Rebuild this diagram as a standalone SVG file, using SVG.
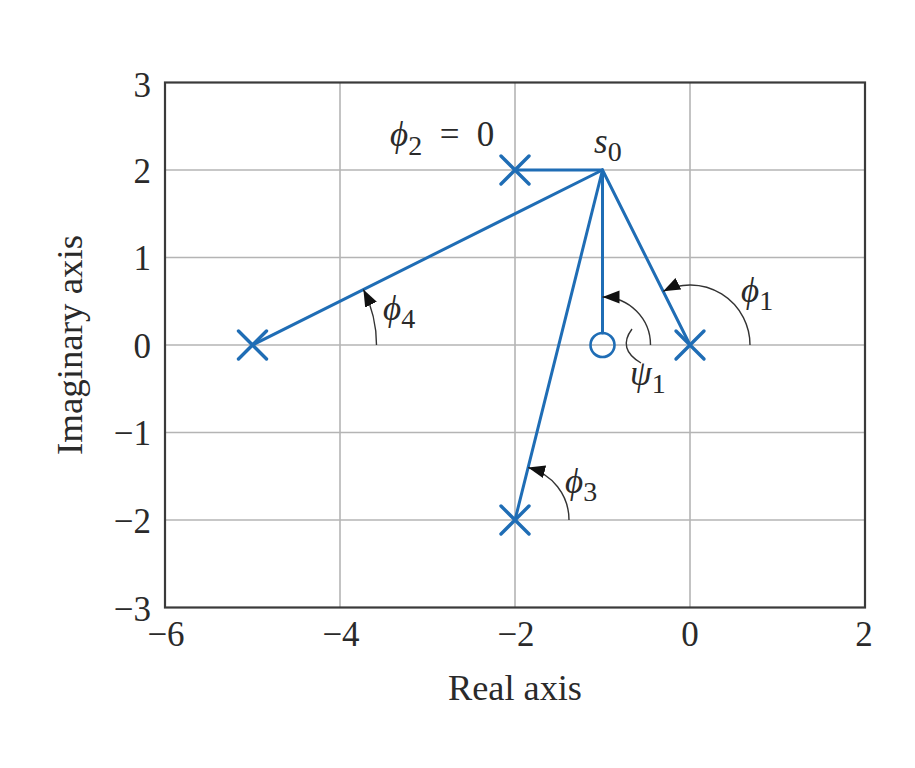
<svg xmlns="http://www.w3.org/2000/svg" width="915" height="768" viewBox="0 0 915 768">
<style>
.grid{stroke:#b4b4b4;stroke-width:1.6;fill:none}
.frame{stroke:#3a3a3a;stroke-width:2.2;fill:none}
.tick{font-family:"Liberation Serif","DejaVu Serif",serif;font-size:35px;fill:#2a2a2a}
.lab{font-family:"Liberation Serif","DejaVu Serif",serif;font-size:35px;fill:#2a2a2a}
.it{font-style:italic}
.sub{font-size:28px}
.blue{stroke:#1f6db5;stroke-width:3;fill:none;stroke-linecap:round}
.mark{stroke:#1f6db5;stroke-width:3.4;fill:none;stroke-linecap:round}
.arc{stroke:#333;stroke-width:1.4;fill:none;marker-end:url(#ah)}
</style>
<defs>
<marker id="ah" markerWidth="18" markerHeight="14" refX="17" refY="6.5" orient="auto" markerUnits="userSpaceOnUse">
<path d="M0,0 L17,6.5 L0,13 Z" fill="#111"/>
</marker>
</defs>
<rect width="915" height="768" fill="#ffffff"/>
<g id="axes">
<line class="grid" x1="340" y1="82.5" x2="340" y2="607.5"/>
<line class="grid" x1="515" y1="82.5" x2="515" y2="607.5"/>
<line class="grid" x1="690" y1="82.5" x2="690" y2="607.5"/>
<line class="grid" x1="165" y1="170" x2="865" y2="170"/>
<line class="grid" x1="165" y1="257.5" x2="865" y2="257.5"/>
<line class="grid" x1="165" y1="345" x2="865" y2="345"/>
<line class="grid" x1="165" y1="432.5" x2="865" y2="432.5"/>
<line class="grid" x1="165" y1="520" x2="865" y2="520"/>
<rect class="frame" x="165" y="82.5" width="700" height="525"/>
<g class="tick" text-anchor="end">
<text x="151" y="97">3</text>
<text x="151" y="183">2</text>
<text x="151" y="270">1</text>
<text x="151" y="358">0</text>
<text x="151" y="445">−1</text>
<text x="151" y="533">−2</text>
<text x="151" y="621">−3</text>
</g>
<g class="tick" text-anchor="middle">
<text x="166" y="646">−6</text>
<text x="341" y="646">−4</text>
<text x="516" y="646">−2</text>
<text x="690" y="646">0</text>
<text x="864" y="646">2</text>
</g>
<text class="lab" x="515" y="700" text-anchor="middle" textLength="134" lengthAdjust="spacingAndGlyphs">Real axis</text>
<text class="lab" transform="translate(82,345) rotate(-90)" text-anchor="middle" textLength="220" lengthAdjust="spacingAndGlyphs">Imaginary axis</text>
</g>
<g id="connectors">
<line class="blue" x1="602.5" y1="170" x2="515" y2="170"/>
<line class="blue" x1="602.5" y1="170" x2="252.5" y2="345"/>
<line class="blue" x1="602.5" y1="170" x2="690" y2="345"/>
<line class="blue" x1="602.5" y1="170" x2="515" y2="520"/>
<line class="blue" x1="602.5" y1="170" x2="602.5" y2="333"/>
<path class="arc" d="M750,345 A60,60 0 0 0 663.2,291.3"/>
<path class="arc" d="M650.5,345 A48,48 0 0 0 602.5,297"/>
<path class="arc" d="M569,520 A54,54 0 0 0 528.1,467.6"/>
<path class="arc" d="M376.5,345 A124,124 0 0 0 363.4,289.5"/>
<path d="M632,329 Q617,349 641,363" stroke="#333" stroke-width="1.4" fill="none"/>
</g>
<g id="s0">
<text class="lab" x="594" y="153"><tspan class="it">s</tspan><tspan class="sub" dy="8">0</tspan></text>
</g>
<g id="pole-0">
<path class="mark" d="M676,331 L704,359 M704,331 L676,359"/>
</g>
<g id="pole-m2p2">
<path class="mark" d="M501,156 L529,184 M529,156 L501,184"/>
</g>
<g id="pole-m2m2">
<path class="mark" d="M501,506 L529,534 M529,506 L501,534"/>
</g>
<g id="pole-m5">
<path class="mark" d="M238.5,331 L266.5,359 M266.5,331 L238.5,359"/>
</g>
<g id="zero-m1">
<circle cx="602.5" cy="345" r="12" stroke="#1f6db5" stroke-width="2.6" fill="none"/>
</g>
<g id="labels">
<text class="lab" x="390" y="146"><tspan class="it">ϕ</tspan><tspan class="sub" dy="9">2</tspan><tspan dy="-9" xml:space="preserve">  =  0</tspan></text>
<text class="lab" x="741" y="302"><tspan class="it">ϕ</tspan><tspan class="sub" dy="8">1</tspan></text>
<text class="lab" x="383" y="320"><tspan class="it">ϕ</tspan><tspan class="sub" dy="8">4</tspan></text>
<text class="lab" x="565" y="493"><tspan class="it">ϕ</tspan><tspan class="sub" dy="8">3</tspan></text>
<text class="lab" x="630" y="385"><tspan class="it">ψ</tspan><tspan class="sub" dy="8">1</tspan></text>
</g>
</svg>
